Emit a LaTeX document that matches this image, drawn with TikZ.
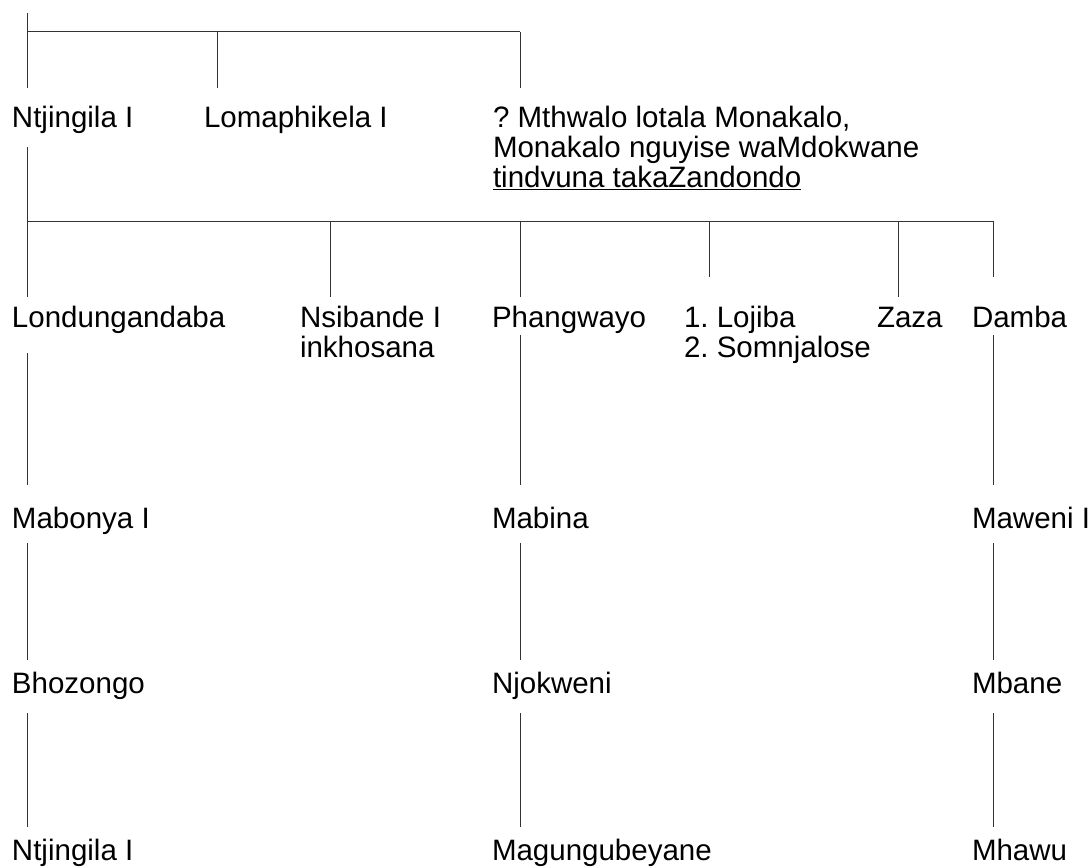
\documentclass[tikz,border=0pt]{standalone}
\usepackage{fontspec}
\setmainfont{Liberation Sans}
\frenchspacing
\newcommand{\stackedlines}[1]{\begin{tabular}[t]{@{}l@{}}#1\end{tabular}}
\begin{document}
\begin{tikzpicture}[x=1pt,y=-1pt,
  person/.style={inner sep=0pt,outer sep=0pt,anchor=base west,font=\fontsize{29.5}{30}\selectfont},
  link/.style={draw=black!80,line width=1pt}]
\useasboundingbox (0,0) rectangle (1091,867);

% ---- people ----
\node[person] (ntjA)  at (12,127)  {Ntjingila I};
\node[person] (loma)  at (204,127) {Lomaphikela I};
\node[person] (mthw)  at (493,127) {\stackedlines{? Mthwalo lotala Monakalo,\\ Monakalo nguyise waMdokwane\\ \underline{tindvuna takaZandondo}}};

\node[person] (lond)  at (12,327)  {Londungandaba};
\node[person] (nsib)  at (300,327) {\stackedlines{Nsibande I\\ inkhosana}};
\node[person] (phang) at (492,327) {Phangwayo};
\node[person] (loj)   at (684,327) {\stackedlines{1. Lojiba\\ 2. Somnjalose}};
\node[person] (zaza)  at (877,327) {Zaza};
\node[person] (damba) at (972,327) {Damba};

\node[person] (mabo)  at (12,528)  {Mabonya I};
\node[person] (mabi)  at (492,528) {Mabina};
\node[person] (mawe)  at (972,528) {Maweni I};

\node[person] (bhoz)  at (12,693)  {Bhozongo};
\node[person] (njok)  at (492,693) {Njokweni};
\node[person] (mban)  at (972,693) {Mbane};

\node[person] (ntjB)  at (12,860)  {Ntjingila I};
\node[person] (magu)  at (492,860) {Magungubeyane};
\node[person] (mhaw)  at (972,860) {Mhawu};

% ---- connector end points ----
\coordinate (root)    at (27,13);
\coordinate (busA)    at (27,32);
\coordinate (busAend) at (520,32);
\coordinate (ntjA-in) at (27,88);
\coordinate (loma-in) at (217,88);
\coordinate (mthw-in) at (520,88);

\coordinate (ntjA-out) at (27,147);
\coordinate (busB)     at (27,221);
\coordinate (busBend)  at (993,221);
\coordinate (lond-in)  at (27,297);
\coordinate (nsib-in)  at (330,297);
\coordinate (phang-in) at (520,297);
\coordinate (loj-in)   at (709,277);
\coordinate (zaza-in)  at (898,297);
\coordinate (damba-in) at (993,277);

\coordinate (lond-out)  at (27,353);
\coordinate (mabo-in)   at (27,485);
\coordinate (mabo-out)  at (27,543);
\coordinate (bhoz-in)   at (27,660);
\coordinate (bhoz-out)  at (27,713);
\coordinate (ntjB-in)   at (27,827);

\coordinate (phang-out) at (520,335);
\coordinate (mabi-in)   at (520,485);
\coordinate (mabi-out)  at (520,543);
\coordinate (njok-in)   at (520,660);
\coordinate (njok-out)  at (520,713);
\coordinate (magu-in)   at (520,827);

\coordinate (damba-out) at (993,335);
\coordinate (mawe-in)   at (993,485);
\coordinate (mawe-out)  at (993,543);
\coordinate (mban-in)   at (993,660);
\coordinate (mban-out)  at (993,713);
\coordinate (mhaw-in)   at (993,827);

% ---- connectors ----
\draw[link] (root) -- (busA) -- (busAend);
\draw[link] (busA) -- (ntjA-in);
\draw[link] (loma-in |- busA) -- (loma-in);
\draw[link] (busAend) -- (mthw-in);

\draw[link] (ntjA-out) -- (busB) -- (busBend);
\foreach \c in {lond,nsib,phang,loj,zaza,damba}
  \draw[link] (\c-in |- busB) -- (\c-in);

\draw[link] (lond-out) -- (mabo-in);
\draw[link] (mabo-out) -- (bhoz-in);
\draw[link] (bhoz-out) -- (ntjB-in);

\draw[link] (phang-out) -- (mabi-in);
\draw[link] (mabi-out) -- (njok-in);
\draw[link] (njok-out) -- (magu-in);

\draw[link] (damba-out) -- (mawe-in);
\draw[link] (mawe-out) -- (mban-in);
\draw[link] (mban-out) -- (mhaw-in);
\end{tikzpicture}
\end{document}
